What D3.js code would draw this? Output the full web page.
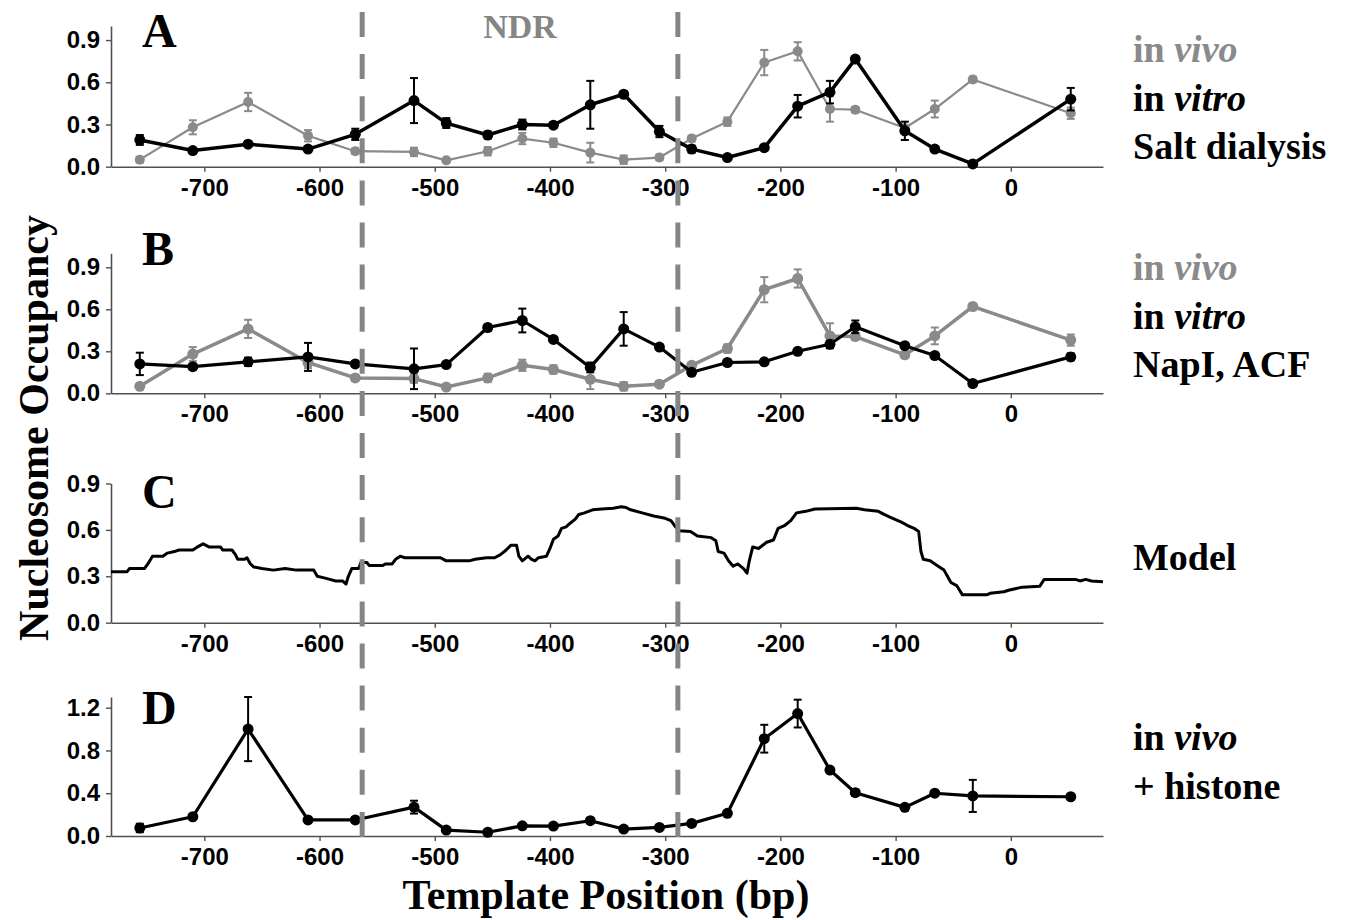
<!DOCTYPE html>
<html>
<head>
<meta charset="utf-8">
<script src="https://cdn.jsdelivr.net/npm/d3@7/dist/d3.min.js"></script>
<style>
  html, body { margin: 0; padding: 0; background: #fff; }
  svg { display: block; }
</style>
</head>
<body>
<script>
// ---------------- DATA ----------------
const positions = [-756, -710, -662, -610, -569, -518, -490, -454, -424, -397, -365, -336, -305, -277, -246, -214, -185, -157, -135, -92, -66, -33, 52];

const inVivo    = [0.05, 0.28, 0.46, 0.22, 0.11, 0.105, 0.045, 0.11, 0.20, 0.17, 0.10, 0.05, 0.065, 0.20, 0.32, 0.74, 0.82, 0.41, 0.405, 0.275, 0.41, 0.62, 0.38];
const inVivoErr = [0.02, 0.05, 0.065, 0.04, 0.02, 0.03, 0.01, 0.03, 0.04, 0.03, 0.07, 0.03, 0.02, 0.02, 0.03, 0.09, 0.065, 0.09, 0.02, 0.02, 0.06, 0.02, 0.04];

const saltDialysis    = [0.19, 0.115, 0.16, 0.125, 0.23, 0.47, 0.31, 0.225, 0.30, 0.295, 0.44, 0.515, 0.25, 0.125, 0.065, 0.135, 0.43, 0.53, 0.765, 0.255, 0.125, 0.02, 0.48];
const saltDialysisErr = [0.035, 0.015, 0.02, 0.02, 0.04, 0.16, 0.035, 0.025, 0.035, 0.02, 0.17, 0.02, 0.04, 0.025, 0.01, 0.015, 0.08, 0.08, 0.01, 0.065, 0.01, 0.01, 0.08];

const napAcf    = [0.21, 0.19, 0.225, 0.26, 0.21, 0.175, 0.205, 0.47, 0.52, 0.385, 0.185, 0.46, 0.33, 0.15, 0.22, 0.225, 0.30, 0.35, 0.475, 0.34, 0.27, 0.07, 0.26];
const napAcfErr = [0.08, 0.02, 0.03, 0.1, 0.015, 0.145, 0.015, 0.02, 0.085, 0.015, 0.035, 0.12, 0.01, 0.01, 0.01, 0.01, 0.01, 0.025, 0.045, 0.01, 0.01, 0.01, 0.025];

const histone    = [0.075, 0.18, 1.0, 0.15, 0.15, 0.27, 0.055, 0.035, 0.095, 0.093, 0.143, 0.065, 0.08, 0.118, 0.212, 0.91, 1.145, 0.617, 0.405, 0.268, 0.40, 0.375, 0.367];
const histoneErr = [0.04, 0.015, 0.3, 0.015, 0.015, 0.06, 0.01, 0.01, 0.015, 0.015, 0.015, 0.01, 0.01, 0.01, 0.01, 0.13, 0.13, 0.015, 0.03, 0.01, 0.02, 0.15, 0.01];

const modelPos = [-781,-767,-765,-752,-749,-745,-736,-732,-726,-722,-710,-706,-701,-696,-686,-684,-676,-673,-671,-665,-663,-660,-657,-650,-640,-630,-620,-605,-602,-596,-591,-586,-580,-577,-575,-572,-566,-564,-559,-557,-545,-543,-537,-534,-530,-526,-495,-490,-470,-465,-455,-448,-443,-438,-434,-429,-427,-424,-419,-416,-413,-410,-403,-400,-397,-393,-390,-386,-383,-378,-375,-370,-363,-355,-345,-338,-334,-330,-320,-310,-300,-295,-291,-288,-278,-272,-260,-256,-254,-249,-245,-241,-237,-232,-229,-227,-224,-219,-212,-206,-202,-196,-191,-186,-178,-170,-134,-127,-115,-110,-104,-95,-90,-84,-80,-78,-76,-70,-64,-58,-55,-52,-47,-42,-21,-18,-6,-2,10,25,29,56,60,65,70,80];
const modelVal = [0.33,0.33,0.35,0.35,0.38,0.43,0.43,0.45,0.46,0.47,0.47,0.49,0.51,0.49,0.49,0.47,0.47,0.44,0.41,0.41,0.42,0.38,0.36,0.35,0.34,0.35,0.34,0.34,0.30,0.29,0.28,0.27,0.27,0.25,0.30,0.35,0.35,0.39,0.39,0.37,0.37,0.38,0.38,0.41,0.43,0.42,0.42,0.40,0.40,0.41,0.42,0.42,0.44,0.47,0.50,0.50,0.43,0.40,0.43,0.41,0.40,0.42,0.43,0.48,0.54,0.56,0.61,0.62,0.64,0.67,0.70,0.71,0.73,0.735,0.74,0.75,0.745,0.73,0.71,0.69,0.675,0.66,0.62,0.595,0.59,0.56,0.55,0.53,0.46,0.45,0.40,0.365,0.38,0.35,0.32,0.40,0.49,0.48,0.52,0.535,0.61,0.63,0.66,0.71,0.72,0.735,0.74,0.73,0.72,0.70,0.68,0.65,0.63,0.61,0.59,0.46,0.41,0.40,0.37,0.34,0.30,0.26,0.24,0.18,0.18,0.19,0.20,0.21,0.23,0.235,0.28,0.28,0.27,0.28,0.27,0.265];

const xTicks = [-700, -600, -500, -400, -300, -200, -100, 0];
const yTicksABC = [0.0, 0.3, 0.6, 0.9];
const yTicksD = [0.0, 0.4, 0.8, 1.2];
const ndrBounds = [-563, -289];

// ---------------- LAYOUT ----------------
const W = 1353, H = 920;
const GRAY = "#8a8a8a";
const DASH_GRAY = "#858585";
const SERIF = "'Liberation Serif', 'Times New Roman', serif";
const SANS = "'Liberation Sans', Arial, sans-serif";

const svg = d3.select("body").append("svg").attr("width", W).attr("height", H)
  .style("background", "#fff");

const x = d3.scaleLinear().domain([-781, 80]).range([111, 1103]);

const panels = [
  { key: "A", domain: [0, 1.0], range: [166.7, 26], ticks: yTicksABC, letterY: 47 },
  { key: "B", domain: [0, 1.0], range: [393.3, 253.3], ticks: yTicksABC, letterY: 265 },
  { key: "C", domain: [0, 0.9], range: [622.7, 483.5], ticks: yTicksABC, letterY: 508 },
  { key: "D", domain: [0, 1.3], range: [836, 697], ticks: yTicksD, letterY: 724 }
];

function drawAxes(p, y) {
  const gx = svg.append("g").attr("transform", `translate(0,${p.range[0]})`)
    .call(d3.axisBottom(x).tickValues(xTicks).tickFormat(d => String(d))
      .tickSizeInner(5).tickSizeOuter(0).tickPadding(7));
  const gy = svg.append("g").attr("transform", `translate(${x.range()[0]},0)`)
    .call(d3.axisLeft(y).tickValues(p.ticks).tickFormat(d => d.toFixed(1))
      .tickSizeInner(5).tickSizeOuter(0).tickPadding(6));
  [gx, gy].forEach(g => {
    g.select(".domain").attr("stroke", "#505050").attr("stroke-width", 1.6);
    g.selectAll(".tick line").attr("stroke", "#505050").attr("stroke-width", 1.4);
    g.selectAll(".tick text").attr("fill", "#000")
      .style("font-family", SANS).style("font-weight", "bold").style("font-size", "24px");
  });
  svg.append("text").attr("x", 142).attr("y", p.letterY).text(p.key)
    .style("font-family", SERIF).style("font-weight", "bold").style("font-size", "48px");
}

function drawSeries(vals, errs, y, color, lw, r) {
  const pts = positions.map((d, i) => ({ x: d, v: vals[i], e: errs[i] }));
  const g = svg.append("g");
  g.append("path").datum(pts)
    .attr("fill", "none").attr("stroke", color).attr("stroke-width", lw)
    .attr("stroke-linejoin", "round")
    .attr("d", d3.line().x(d => x(d.x)).y(d => y(d.v)));
  const eb = g.selectAll(".eb").data(pts.filter(d => d.e > 0)).enter().append("g");
  eb.append("line").attr("x1", d => x(d.x)).attr("x2", d => x(d.x))
    .attr("y1", d => y(d.v - d.e)).attr("y2", d => y(d.v + d.e))
    .attr("stroke", color).attr("stroke-width", 2);
  [-1, 1].forEach(s => {
    eb.append("line").attr("x1", d => x(d.x) - 4).attr("x2", d => x(d.x) + 4)
      .attr("y1", d => y(d.v + s * d.e)).attr("y2", d => y(d.v + s * d.e))
      .attr("stroke", color).attr("stroke-width", 2);
  });
  g.selectAll("circle").data(pts).enter().append("circle")
    .attr("cx", d => x(d.x)).attr("cy", d => y(d.v)).attr("r", r).attr("fill", color);
}

function rightLabel(lines, yBase) {
  lines.forEach((ln, i) => {
    const t = svg.append("text").attr("x", 1133).attr("y", yBase + i * 48.5)
      .style("font-family", SERIF).style("font-weight", "bold").style("font-size", "38px")
      .attr("fill", ln.color || "#000");
    ln.parts.forEach(pt => {
      t.append("tspan").text(pt.t).style("font-style", pt.i ? "italic" : "normal");
    });
  });
}

// Panel A
{
  const p = panels[0];
  const y = d3.scaleLinear().domain(p.domain).range(p.range);
  drawAxes(p, y);
  drawSeries(inVivo, inVivoErr, y, GRAY, 2.2, 5);
  drawSeries(saltDialysis, saltDialysisErr, y, "#000", 3.5, 5.5);
  rightLabel([
    { parts: [{ t: "in " }, { t: "vivo", i: true }], color: GRAY },
    { parts: [{ t: "in " }, { t: "vitro", i: true }] },
    { parts: [{ t: "Salt dialysis" }] }
  ], 62);
}
// Panel B
{
  const p = panels[1];
  const y = d3.scaleLinear().domain(p.domain).range(p.range);
  drawAxes(p, y);
  drawSeries(inVivo, inVivoErr, y, GRAY, 3.5, 5.5);
  drawSeries(napAcf, napAcfErr, y, "#000", 3.2, 5.5);
  rightLabel([
    { parts: [{ t: "in " }, { t: "vivo", i: true }], color: GRAY },
    { parts: [{ t: "in " }, { t: "vitro", i: true }] },
    { parts: [{ t: "NapI, ACF" }] }
  ], 280);
}
// Panel C
{
  const p = panels[2];
  const y = d3.scaleLinear().domain(p.domain).range(p.range);
  drawAxes(p, y);
  const pts = modelPos.map((d, i) => ({ x: d, v: modelVal[i] }));
  svg.append("path").datum(pts)
    .attr("fill", "none").attr("stroke", "#000").attr("stroke-width", 3)
    .attr("stroke-linejoin", "round")
    .attr("d", d3.line().x(d => x(d.x)).y(d => y(d.v)));
  rightLabel([{ parts: [{ t: "Model" }] }], 570);
}
// Panel D
{
  const p = panels[3];
  const y = d3.scaleLinear().domain(p.domain).range(p.range);
  drawAxes(p, y);
  drawSeries(histone, histoneErr, y, "#000", 3.2, 5.5);
  rightLabel([
    { parts: [{ t: "in " }, { t: "vivo", i: true }] },
    { parts: [{ t: "+ histone" }] }
  ], 750);
}

// NDR dashed boundaries
ndrBounds.forEach(b => {
  svg.append("line").attr("x1", x(b)).attr("x2", x(b)).attr("y1", 12).attr("y2", 842)
    .attr("stroke", DASH_GRAY).attr("stroke-width", 5).attr("stroke-dasharray", "25,17.1");
});
svg.append("text").attr("x", x((ndrBounds[0] + ndrBounds[1]) / 2)).attr("y", 38)
  .attr("text-anchor", "middle").attr("fill", DASH_GRAY).text("NDR")
  .style("font-family", SERIF).style("font-weight", "bold").style("font-size", "34px");

// Axis titles
svg.append("text").attr("transform", "translate(48,428) rotate(-90)")
  .attr("text-anchor", "middle").text("Nucleosome Occupancy")
  .style("font-family", SERIF).style("font-weight", "bold").style("font-size", "42px");
svg.append("text").attr("x", 606).attr("y", 909)
  .attr("text-anchor", "middle").text("Template Position (bp)")
  .style("font-family", SERIF).style("font-weight", "bold").style("font-size", "42px");
</script>
</body>
</html>
